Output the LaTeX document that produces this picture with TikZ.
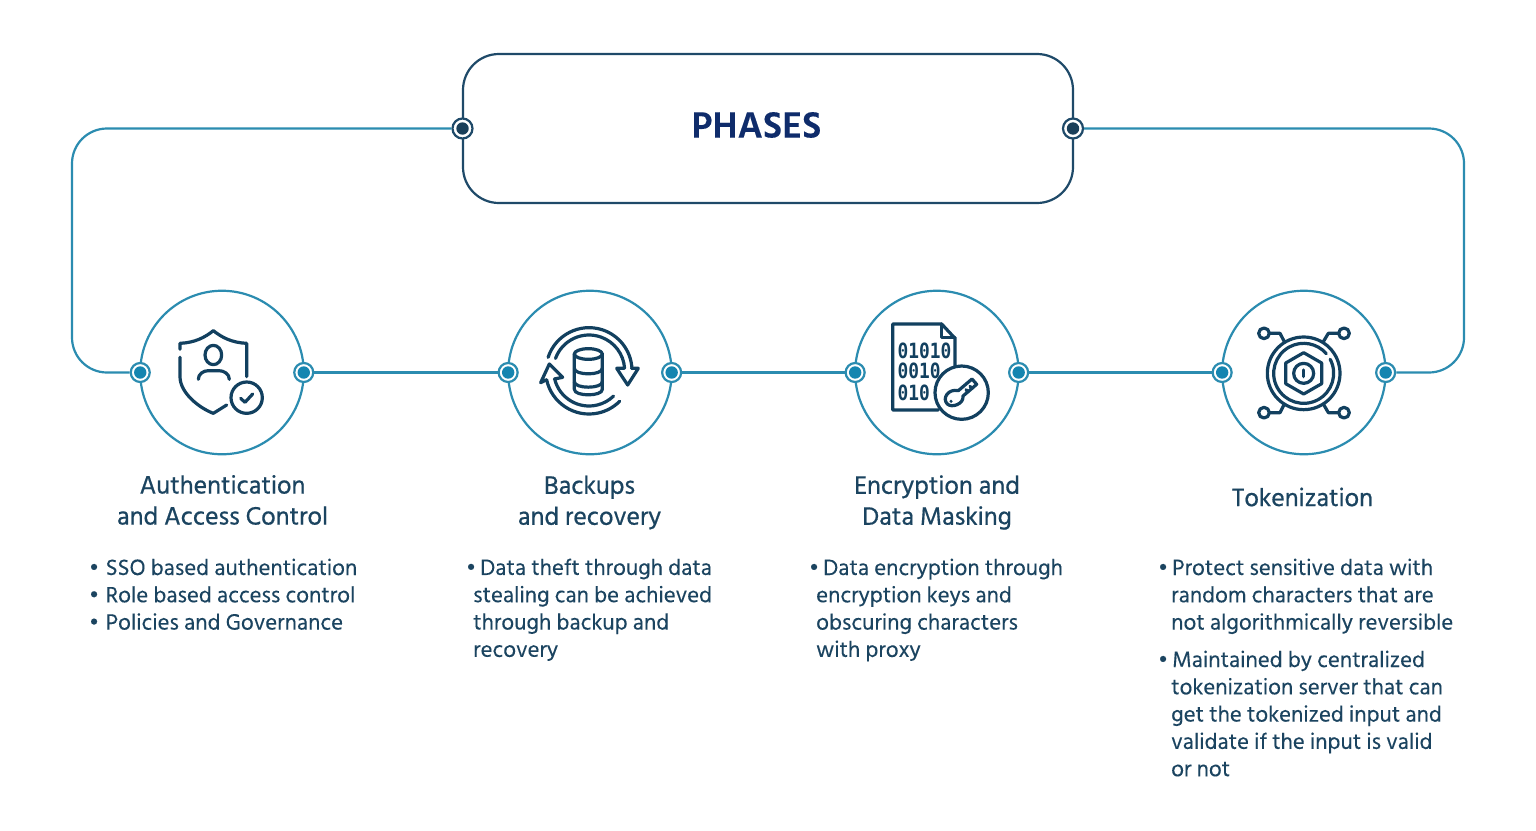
\documentclass[tikz,border=0pt]{standalone}
\usepackage{fontspec}
\setmainfont{Hind Siliguri}[FakeBold=0.12]
\newfontfamily\headfnt{Hind Siliguri}[FakeBold=0.6]
\newfontfamily\monofnt{DejaVu Sans Mono}[BoldFont={* Bold},FakeStretch=0.85]
\definecolor{dark}{HTML}{12405F}
\definecolor{boxline}{HTML}{1F4A69}
\definecolor{teal}{HTML}{2B8CB0}
\definecolor{dotblue}{HTML}{1585B0}
\definecolor{bodytxt}{HTML}{1B4460}
\definecolor{titlecol}{HTML}{0F2C6B}
\newcommand{\bl}[2][4]{\hspace*{#2pt}\llap{\textbullet\hspace{#1pt}}}
\tikzset{
  stage/.style={circle,draw=teal,line width=2.2pt,minimum size=163.5pt,inner sep=0pt,outer sep=0pt},
  port/.style={circle,draw=teal,line width=2.2pt,fill=white,minimum size=19pt,inner sep=0pt,
    path picture={\fill[dotblue] (path picture bounding box.center) circle (6.2pt);}},
  hport/.style={circle,draw=boxline,line width=2.2pt,fill=white,minimum size=20pt,inner sep=0pt,
    path picture={\fill[boxline!85!black] (path picture bounding box.center) circle (6.2pt);}},
  wire/.style={draw=teal,line width=2.2pt},
  icon/.style={draw=dark,line width=3.2pt,line cap=round,line join=round},
  heading/.style={font=\headfnt\fontsize{25.8}{31}\selectfont,text=bodytxt,align=center,inner sep=0pt},
  body/.style={font=\fontsize{22.8}{27.3}\selectfont,text=bodytxt,align=left,inner sep=0pt,anchor=north west},
  digits/.style={font=\monofnt\bfseries\fontsize{21}{21}\selectfont,text=dark,inner sep=0pt,anchor=west}
}
\begin{document}
\begin{tikzpicture}[x=1pt,y=-1pt]
\useasboundingbox (0,0) rectangle (1536,830);
\fill[white] (0,0) rectangle (1536,830);
% phases box
\node[draw=boxline,line width=2.2pt,rounded corners=36pt,minimum width=610pt,minimum height=149pt,inner sep=0pt] (box) at (768,128.5) {};
\node[font=\bfseries\fontsize{37.5}{40}\selectfont,text=titlecol,inner sep=0pt] (title) at (756.5,125) {PHASES};
% stages
\node[stage] (s1) at (222,372.5) {};
\node[stage] (s2) at (589.9,372.5) {};
\node[stage] (s3) at (936.9,372.5) {};
\node[stage] (s4) at (1303.9,372.5) {};
\foreach \s in {1,2,3,4}{
  \node[port] (s\s l) at (s\s.west) {};
  \node[port] (s\s r) at (s\s.east) {};
}
\node[hport] (bl) at (462.5,128.5) {};
\node[hport] (br) at (1073,128.5) {};
\coordinate (leftbend) at (72,250);
\coordinate (rightbend) at (1464,250);
% connectors
\draw[wire,rounded corners=35pt] (bl) -| (leftbend) |- (s1l);
\draw[wire,rounded corners=35pt] (br) -| (rightbend) |- (s4r);
\draw[wire] (s1r) -- (s2l);
\draw[wire] (s2r) -- (s3l);
\draw[wire] (s3r) -- (s4l);
% icon 1: shield
\begin{scope}[shift={(120,280)},scale=1/3]
\draw[icon] (180,208) -- (180,190) .. controls (225,188) and (255,172) .. (280,152) .. controls (305,172) and (335,188) .. (380,190) -- (380,290);
\draw[icon] (180,232) -- (180,290) .. controls (180,340) and (240,385) .. (280,400) -- (320,375);
\draw[icon] (280,225) ellipse [x radius=25,y radius=29];
\draw[icon] (235,298) .. controls (235,282) and (250,272) .. (265,272) -- (297,272) .. controls (312,272) and (328,282) .. (328,298);
\draw[icon] (380,353) circle [radius=47];
\draw[icon] (362,355) -- (375,367) -- (398,342);
\end{scope}
% icon 2: database
\begin{scope}[shift={(490,280)},scale=1/3]
\draw[icon] (295,222) ellipse [x radius=42,y radius=16];
\draw[icon] (253,222) -- (253,328) .. controls (253,350) and (337,350) .. (337,328) -- (337,222);
\draw[icon] (253,265) .. controls (253,287) and (337,287) .. (337,265);
\draw[icon] (253,305) .. controls (253,327) and (337,327) .. (337,305);
\draw[icon] (297,272) ++(198:129) arc [start angle=198,end angle=357,radius=129];
\draw[icon] (297,272) ++(200:107) arc [start angle=200,end angle=356,radius=107];
\draw[icon] (402,265) -- (380,265) -- (413,315) -- (445,265) -- (425,265);
\draw[icon] (297,272) ++(168:130) arc [start angle=168,end angle=45,radius=130];
\draw[icon] (297,272) ++(166:106) arc [start angle=166,end angle=46,radius=106];
\draw[icon] (168,300) -- (152,308) -- (178,252) -- (218,292) -- (193,297);
\end{scope}
% icon 3: binary file with key
\begin{scope}[shift={(840,280)},scale=1/3]
\draw[icon] (295,390) -- (158,390) -- (158,132) -- (305,132) -- (345,175) -- (345,265);
\draw[icon] (305,132) -- (305,172) -- (345,172);
\node[digits] (d1) at (172,212) {01010};
\node[digits] (d2) at (172,272) {0010};
\node[digits] (d3) at (172,338) {010};
\draw[icon,fill=white] (365,338) circle [radius=80];
\draw[icon] (355,332) -- (396,297) -- (410,313) -- (369,348) .. controls (372,372) and (335,385) .. (322,372) .. controls (305,355) and (325,325) .. (355,332);
\draw[icon] (384,336) -- (378,329);
\draw[icon] (396,326) -- (390,319);
\fill[dark] (333,364) circle [radius=5];
\end{scope}
% icon 4: token chip
\begin{scope}[shift={(1205,280)},scale=1/3]
\draw[icon] (296,280) circle [radius=109];
\draw[icon] (296,280) ++(-28:90) arc [start angle=-28,end angle=319,radius=90];
\draw[icon] (296,218) -- (350,249) -- (350,311) -- (296,342) -- (242,311) -- (242,249) -- cycle;
\draw[icon] (296,280) circle [radius=30];
\draw[icon] (296,270) -- (296,290);
\draw[icon] (177,160) circle [radius=16];
\draw[icon] (417,160) circle [radius=16];
\draw[icon] (177,398) circle [radius=16];
\draw[icon] (417,398) circle [radius=16];
\draw[icon] (193,160) -- (225,160) -- (238,185);
\draw[icon] (401,160) -- (370,160) -- (355,185);
\draw[icon] (193,398) -- (225,398) -- (238,372);
\draw[icon] (401,398) -- (370,398) -- (355,372);
\end{scope}
% headings
\node[heading] (h1) at (222.5,500) {Authentication\\and Access Control};
\node[heading] (h2) at (589.5,502.5) {Backups\\and recovery};
\node[heading] (h3) at (937,502.5) {Encryption and\\Data Masking};
\node[heading] (h4) at (1302.5,497) {Tokenization};
% bodies
\node[body] (b1) at (105.5,558.5) {\bl[6.5]{0}SSO based authentication\\\bl[6.5]{0}Role based access control\\\bl[6.5]{0}Policies and Governance};
\node[body] (b2) at (473,558.5) {\bl{7}Data theft through data\\stealing can be achieved\\through backup and\\recovery};
\node[body] (b3) at (816,558.5) {\bl{7}Data encryption through\\encryption keys and\\obscuring characters\\with proxy};
\node[body] (b4) at (1171,558.5) {\bl{1}Protect sensitive data with\\random characters that are\\not algorithmically reversible};
\node[body] (b5) at (1171,650.5) {\bl{1}Maintained by centralized\\tokenization server that can\\get the tokenized input and\\validate if the input is valid\\or not};
\end{tikzpicture}
\end{document}
